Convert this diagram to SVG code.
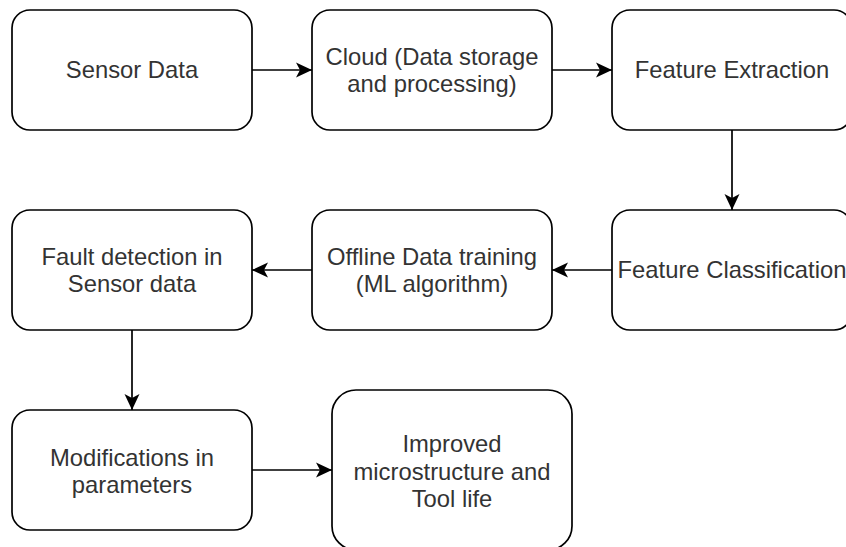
<svg xmlns="http://www.w3.org/2000/svg" width="846" height="547" viewBox="0 0 846 547">
<defs>
<style>
.box{fill:#fff;stroke:#000;stroke-width:1.7}
.lbl{font-family:"Liberation Sans",Arial,Helvetica,sans-serif;font-size:23.8px;fill:#333;text-anchor:middle}
.edge{stroke:#000;stroke-width:1.7;fill:none}
</style>
<marker id="arr" markerUnits="userSpaceOnUse" markerWidth="20" markerHeight="20" refX="16" refY="8" orient="auto" viewBox="0 0 20 16">
<path d="M0,0.5 L16,8 L0,15.5 L4,8 Z" fill="#000"/>
</marker>
</defs>
<rect width="846" height="547" fill="#fff"/>
<g id="n-sensor"><rect class="box" x="12" y="10" width="240" height="120" rx="18"/><text class="lbl" x="132" y="78">Sensor Data</text></g>
<g id="n-cloud"><rect class="box" x="312" y="10" width="240" height="120" rx="18"/><text class="lbl" x="432" y="64.5">Cloud (Data storage</text><text class="lbl" x="432" y="92">and processing)</text></g>
<g id="n-extract"><rect class="box" x="612" y="10" width="240" height="120" rx="18"/><text class="lbl" x="732" y="78">Feature Extraction</text></g>
<g id="n-classify"><rect class="box" x="612" y="210" width="240" height="120" rx="18"/><text class="lbl" x="732" y="278">Feature Classification</text></g>
<g id="n-offline"><rect class="box" x="312" y="210" width="240" height="120" rx="18"/><text class="lbl" x="432" y="264.5">Offline Data training</text><text class="lbl" x="432" y="292">(ML algorithm)</text></g>
<g id="n-fault"><rect class="box" x="12" y="210" width="240" height="120" rx="18"/><text class="lbl" x="132" y="264.5">Fault detection in</text><text class="lbl" x="132" y="292">Sensor data</text></g>
<g id="n-modify"><rect class="box" x="12" y="410" width="240" height="120" rx="18"/><text class="lbl" x="132" y="465.5">Modifications in</text><text class="lbl" x="132" y="493">parameters</text></g>
<g id="n-improved"><rect class="box" x="332" y="390" width="240" height="160" rx="24"/><text class="lbl" x="452" y="452">Improved</text><text class="lbl" x="452" y="479.5">microstructure and</text><text class="lbl" x="452" y="507">Tool life</text></g>
<g id="connectors">
<line class="edge" x1="252" y1="70" x2="312" y2="70" marker-end="url(#arr)"/>
<line class="edge" x1="552" y1="70" x2="612" y2="70" marker-end="url(#arr)"/>
<line class="edge" x1="732" y1="130" x2="732" y2="210" marker-end="url(#arr)"/>
<line class="edge" x1="612" y1="270" x2="552" y2="270" marker-end="url(#arr)"/>
<line class="edge" x1="312" y1="270" x2="252" y2="270" marker-end="url(#arr)"/>
<line class="edge" x1="132" y1="330" x2="132" y2="410" marker-end="url(#arr)"/>
<line class="edge" x1="252" y1="470" x2="332" y2="470" marker-end="url(#arr)"/>
</g>
</svg>
